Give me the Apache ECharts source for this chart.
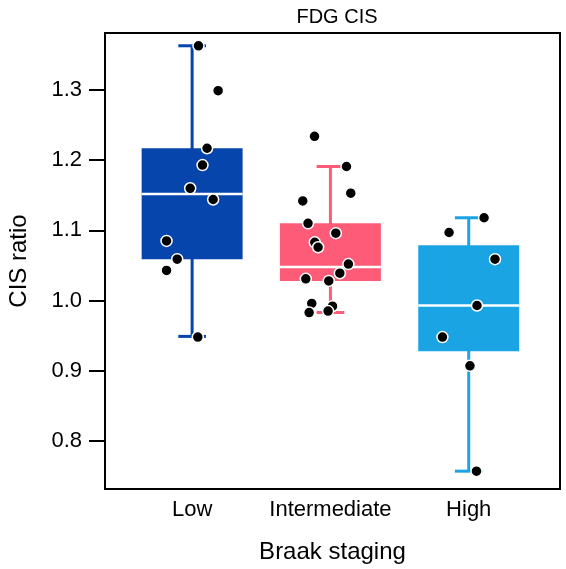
<!DOCTYPE html>
<html>
<head>
<meta charset="utf-8">
<script src="https://cdn.jsdelivr.net/npm/echarts@6/dist/echarts.min.js"></script>
<style>html,body{margin:0;padding:0;background:#fff}#c{width:566px;height:569px}</style>
</head>
<body>
<div id="c"></div>
<script>
var categories = ['Low', 'Intermediate', 'High'];
var colors = ['#0645AB', '#FE5B79', '#1BA4E3'];
// [min, Q1, median, Q3, max]
var boxLow = [0.949, 1.059, 1.152, 1.217, 1.363];
var boxIntermediate = [0.983, 1.028, 1.048, 1.110, 1.191];
var boxHigh = [0.757, 0.928, 0.993, 1.079, 1.118];
// points: [x position (jittered), value]
var pointsLow = [[1.046,1.363],[1.188,1.299],[1.108,1.217],[1.075,1.193],[0.986,1.160],[1.152,1.144],[0.815,1.085],[0.892,1.059],[0.815,1.043],[1.041,0.948]];
var pointsIntermediate = [[1.885,1.234],[2.116,1.191],[2.147,1.153],[1.800,1.142],[1.838,1.110],[2.039,1.096],[1.887,1.083],[1.911,1.076],[2.130,1.052],[2.068,1.039],[1.822,1.031],[1.988,1.028],[1.865,0.996],[2.015,0.992],[1.846,0.983],[1.983,0.985]];
var pointsHigh = [[3.111,1.118],[2.858,1.097],[3.190,1.059],[3.060,0.993],[2.810,0.948],[3.009,0.907],[3.056,0.757]];
var yTicks = [0.8, 0.9, 1.0, 1.1, 1.2, 1.3];

var boxes = [boxLow, boxIntermediate, boxHigh];
var boxData = boxes.map(function(b, i){ return [i + 1].concat(b).concat([i]); });
var points = pointsLow.concat(pointsIntermediate).concat(pointsHigh);

var chart = echarts.init(document.getElementById('c'), null, {renderer: 'canvas'});
chart.setOption({
  animation: false,
  title: {text: 'FDG CIS', left: 332, top: 2, textAlign: 'center',
    textStyle: {fontFamily: 'Liberation Sans, Arial', fontSize: 20, fontWeight: 'normal', color: '#000'}},
  grid: {left: 105, right: 6, top: 33, bottom: 80, show: true, borderColor: '#000', borderWidth: 2,
    containLabel: false, outerBoundsMode: 'none'},
  xAxis: {
    type: 'value', min: 0.37, max: 3.66,
    name: 'Braak staging', nameLocation: 'middle', nameGap: 51,
    nameTextStyle: {fontFamily: 'Liberation Sans, Arial', fontSize: 24, color: '#000'},
    axisLine: {show: false}, axisTick: {show: false}, splitLine: {show: false},
    axisLabel: {customValues: [1, 2, 3], formatter: function(v){ return categories[Math.round(v) - 1]; },
      fontFamily: 'Liberation Sans, Arial', fontSize: 22, color: '#000', margin: 10}
  },
  yAxis: {
    type: 'value', min: 0.7316, max: 1.3812,
    name: 'CIS ratio', nameLocation: 'middle', nameGap: 74,
    nameTextStyle: {fontFamily: 'Liberation Sans, Arial', fontSize: 24, color: '#000'},
    axisLine: {show: false}, splitLine: {show: false},
    axisTick: {show: true, length: 16, customValues: yTicks, lineStyle: {color: '#000', width: 2}},
    axisLabel: {customValues: yTicks, formatter: function(v){ return v.toFixed(1); },
      fontFamily: 'Liberation Sans, Arial', fontSize: 22, color: '#000', margin: 23}
  },
  series: [
    {
      type: 'custom',
      data: boxData,
      renderItem: function(params, api){
        var x = api.value(0);
        var ci = api.value(6);
        var col = colors[ci];
        var pMin = api.coord([x, api.value(1)]);
        var pQ1 = api.coord([x, api.value(2)]);
        var pMed = api.coord([x, api.value(3)]);
        var pQ3 = api.coord([x, api.value(4)]);
        var pMax = api.coord([x, api.value(5)]);
        var halfBox = api.size([0.365, 0])[0];
        var halfCap = api.size([0.1, 0])[0];
        var cx = pMin[0];
        var ls = {stroke: col, lineWidth: 3};
        return {
          type: 'group',
          children: [
            {type: 'line', shape: {x1: cx, y1: pMax[1], x2: cx, y2: pMin[1]}, style: ls},
            {type: 'line', shape: {x1: cx - halfCap, y1: pMax[1], x2: cx + halfCap, y2: pMax[1]}, style: ls},
            {type: 'line', shape: {x1: cx - halfCap, y1: pMin[1], x2: cx + halfCap, y2: pMin[1]}, style: ls},
            {type: 'rect', shape: {x: cx - halfBox, y: pQ3[1], width: 2 * halfBox, height: pQ1[1] - pQ3[1]}, style: {fill: col}},
            {type: 'line', shape: {x1: cx - halfBox, y1: pMed[1], x2: cx + halfBox, y2: pMed[1]}, style: {stroke: '#fff', lineWidth: 2.5}}
          ]
        };
      },
      z: 2
    },
    {
      type: 'scatter',
      data: points,
      symbol: 'circle',
      symbolSize: 11,
      itemStyle: {color: '#000', borderColor: '#fff', borderWidth: 1.5, opacity: 1},
      z: 5
    }
  ]
});
</script>
</body>
</html>
